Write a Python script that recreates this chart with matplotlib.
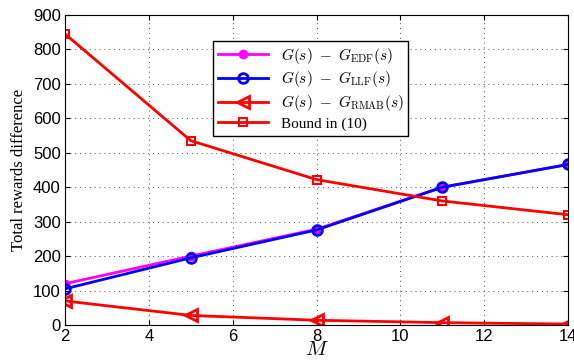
import matplotlib
matplotlib.use("Agg")
import matplotlib.pyplot as plt

plt.rcParams['mathtext.fontset'] = 'cm'

# --- data ---
M = [2, 5, 8, 11, 14]
edf = [120, 200, 278, 400, 466]
llf = [105, 195, 276, 400, 466]
rmab = [70, 28, 14, 7, 3]
bound = [845, 535, 422, 360, 320]

fig = plt.figure(figsize=(5.74, 3.62), dpi=100)
ax = fig.add_axes([0.113, 0.102, 0.877, 0.857])

ax.plot(M, edf, '-o', color='magenta', lw=2, ms=6, mfc='magenta', mec='magenta',
        label=r'$G(s)\ -\ G_{\mathrm{EDF}}(s)$')
ax.plot(M, llf, '-o', color='blue', lw=2, ms=7, mfc='none', mew=2,
        label=r'$G(s)\ -\ G_{\mathrm{LLF}}(s)$')
ax.plot(M, rmab, '-<', color='red', lw=2, ms=8, mfc='none', mew=2,
        label=r'$G(s)\ -\ G_{\mathrm{RMAB}}(s)$')
ax.plot(M, bound, '-s', color='red', lw=2, ms=6, mfc='none', mew=1.5,
        label='Bound in (10)')

ax.set_xlim(2, 14)
ax.set_ylim(0, 900)
ax.set_xticks(range(2, 15, 2))
ax.set_yticks(range(0, 901, 100))
ax.tick_params(direction='in', labelsize=12, top=True, right=True, pad=3)
for lab in ax.get_xticklabels() + ax.get_yticklabels():
    lab.set_fontfamily('Liberation Sans')
ax.grid(True, ls=(0, (1, 4)), color='black', lw=0.7, alpha=0.7)

ax.set_xlabel(r'$M$', fontsize=15, labelpad=-4)
ax.set_ylabel('Total rewards difference', fontsize=12, family='Liberation Serif')

leg = ax.legend(loc='upper left', bbox_to_anchor=(0.28, 0.94),
                prop={'family': 'Liberation Serif', 'size': 11},
                fancybox=False, edgecolor='black', framealpha=1,
                handlelength=3.3, borderpad=0.3, labelspacing=0.25)
leg.get_frame().set_linewidth(1)

fig.savefig('out.png', dpi=100)
